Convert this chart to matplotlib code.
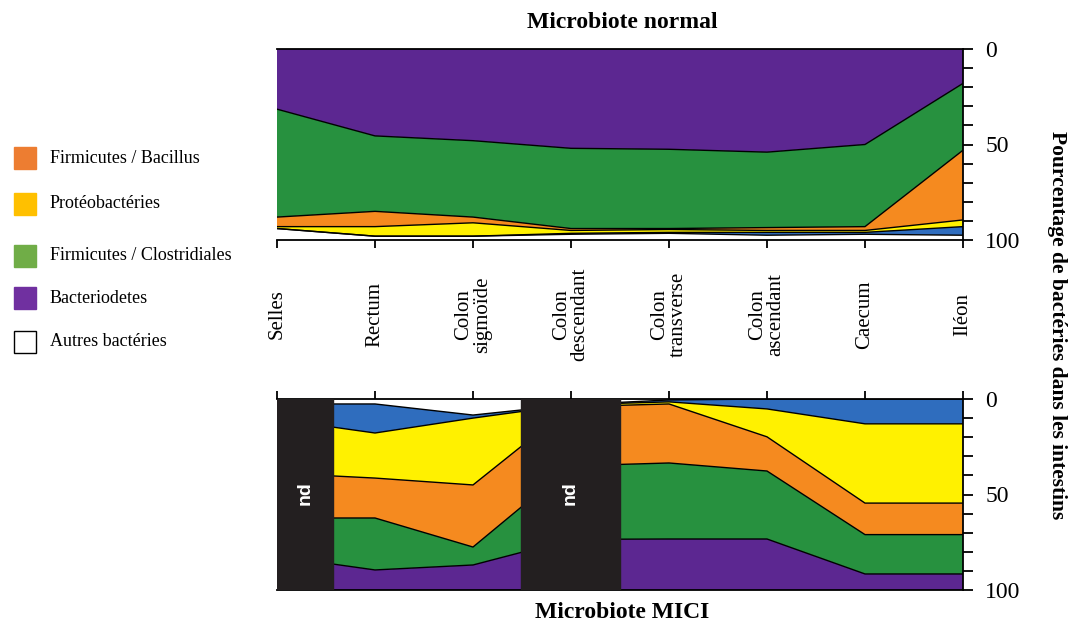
import matplotlib.pyplot as plt
from matplotlib.patches import Rectangle
import numpy as np

plt.rcParams['font.family'] = ['Liberation Serif', 'DejaVu Serif']

# Segments de l'intestin (axe x commun aux deux panneaux)
segments = ["Selles", "Rectum", "Colon\nsigmoïde", "Colon\ndescendant",
            "Colon\ntransverse", "Colon\nascendant", "Caecum", "Iléon"]

# Microbiote normal (% empilés, du haut vers le bas)
normal_bacteriodetes = [31.5, 45.5, 48, 52, 52.5, 54, 50, 18]
normal_clostridiales = [56.5, 39.5, 40, 42, 41.5, 39.5, 43, 35]
normal_bacillus = [5, 8, 3, 1, 0.5, 1.5, 2, 36.5]
normal_proteo = [1, 5, 7, 1.5, 1.5, 1, 1, 3.5]
normal_bleu = [0, 0, 0, 0.5, 0.5, 1.5, 1, 4.5]
normal_autres = [6, 2, 2, 3, 3.5, 2.5, 3, 2.5]

# Microbiote MICI (% empilés, du haut vers le bas)
mici_autres = [2.6, 2.6, 8.4, 3, 0.5, 0, 0, 0]
mici_bleu = [8, 15.2, 1.6, 0, 1, 5.2, 13, 13]
mici_proteo = [28.2, 23.6, 35, 1, 1.1, 14.6, 41.5, 41.5]
mici_bacillus = [23.5, 20.9, 32.5, 31, 30.9, 17.9, 16.5, 16.5]
mici_clostridiales = [20, 27.2, 9.4, 38.5, 39.8, 35.6, 20.6, 20.6]
mici_bacteriodetes = [17.7, 10.5, 13.1, 26.5, 26.7, 26.7, 8.4, 8.4]

# zones non déterminées (nd) du panneau MICI
nd_zones = [(0, 0.57), (2.49, 3.5)]

# légende
legende_labels = ["Firmicutes / Bacillus", "Protéobactéries", "Firmicutes / Clostridiales",
                  "Bacteriodetes", "Autres bactéries"]
legende_couleurs = ["#ED7D31", "#FFC000", "#70AD47", "#7030A0", "#FFFFFF"]

c_violet = "#5C2791"
c_vert = "#27913F"
c_orange = "#F58A1F"
c_jaune = "#FFF100"
c_bleu = "#2F6DBE"
c_nd = "#231F20"

W, H = 1074, 626
fig = plt.figure(figsize=(W / 100, H / 100), dpi=100)
ax1 = fig.add_axes([277 / W, 1 - 240 / H, 686 / W, 191 / H])
ax2 = fig.add_axes([277 / W, 1 - 590 / H, 686 / W, 191 / H])

x = np.arange(len(segments))


# aires empilées + lignes noires entre les couches
def empiler(ax, couches, couleurs):
    ax.stackplot(x, *couches, colors=couleurs, linewidth=0)
    cumul = np.cumsum(np.array(couches, dtype=float), axis=0)
    for ligne in cumul[:-1]:
        ax.plot(x, ligne, color="black", linewidth=1)


empiler(ax1, [normal_bacteriodetes, normal_clostridiales, normal_bacillus,
              normal_proteo, normal_bleu, normal_autres],
        [c_violet, c_vert, c_orange, c_jaune, c_bleu, "white"])
empiler(ax2, [mici_autres, mici_bleu, mici_proteo, mici_bacillus,
              mici_clostridiales, mici_bacteriodetes],
        ["white", c_bleu, c_jaune, c_orange, c_vert, c_violet])

for a, b in nd_zones:
    ax2.axvspan(a, b, color=c_nd, zorder=3)
    ax2.text((a + b) / 2, 49, "nd", color="white", fontweight="bold", fontsize=14,
             family=["Liberation Sans", "DejaVu Sans"], rotation=90,
             ha="center", va="center", zorder=4)

yt = list(range(0, 101, 10))
ytl = ["0" if v == 0 else "50" if v == 50 else "100" if v == 100 else "" for v in yt]
for ax in (ax1, ax2):
    ax.set_xlim(0, len(segments) - 1)
    ax.set_ylim(100, 0)
    ax.yaxis.tick_right()
    ax.set_yticks(yt)
    ax.set_yticklabels(ytl)
    ax.set_xticks(x)
    ax.set_xticklabels([])
    ax.tick_params(axis="y", direction="out", length=7, width=1.3, labelsize=17, pad=9)
    ax.tick_params(axis="x", direction="out", length=6, width=1.3)
    ax.spines["left"].set_visible(False)
    for s in ("top", "bottom", "right"):
        ax.spines[s].set_linewidth(1.3)
ax2.xaxis.tick_top()

# noms des segments entre les deux panneaux
for i, lab in enumerate(segments):
    ax1.text(i, -0.39, lab, transform=ax1.get_xaxis_transform(), rotation=90,
             ha="center", va="center", fontsize=15, linespacing=0.95,
             multialignment="center")

fig.text(622 / W, 1 - 22 / H, "Microbiote normal", ha="center", va="center",
         fontsize=17, fontweight="bold")
fig.text(622 / W, 1 - 613 / H, "Microbiote MICI", ha="center", va="center",
         fontsize=17, fontweight="bold")
fig.text(1057 / W, 1 - 325 / H, "Pourcentage de bactéries dans les intestins",
         rotation=-90, ha="center", va="center", fontsize=15.5, fontweight="bold")

# légende manuelle à gauche
ys = [158, 204, 256, 298, 342]
for yc, lab, col in zip(ys, legende_labels, legende_couleurs):
    fig.add_artist(Rectangle((14 / W, 1 - (yc + 11) / H), 22 / W, 22 / H,
                             transform=fig.transFigure, facecolor=col,
                             edgecolor="black" if col == "#FFFFFF" else col, linewidth=1))
    fig.text(50 / W, 1 - yc / H, lab, ha="left", va="center", fontsize=13)

fig.savefig("out.png", dpi=100)
